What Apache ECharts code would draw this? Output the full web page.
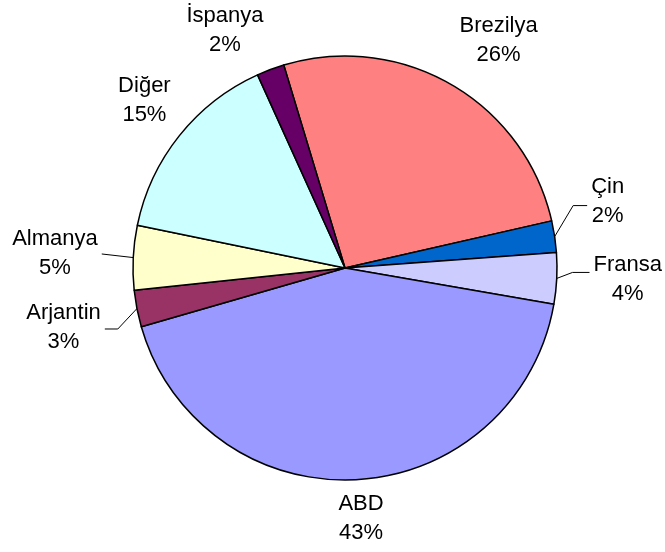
<!DOCTYPE html>
<html>
<head>
<meta charset="utf-8">
<script src="https://cdn.jsdelivr.net/npm/echarts@6/dist/echarts.min.js"></script>
<style>
html, body { margin: 0; padding: 0; background: #fff; }
#main { width: 665px; height: 552px; }
</style>
</head>
<body>
<div id="main"></div>
<script>
var countries = ['Brezilya', 'Çin', 'Fransa', 'ABD', 'Arjantin', 'Almanya', 'Diğer', 'İspanya'];
var shares = [26.1, 2.4, 3.9, 42.8, 2.8, 4.9, 15.0, 2.1];
var colors = ['#FF8080', '#0066CC', '#CCCCFF', '#9999FF', '#993366', '#FFFFCC', '#CCFFFF', '#660066'];

var startAngle = 106.8;
var cx = 345, cy = 268, r = 212;
// label centre, offset from the middle of the slice's outer edge
var labelShift = [[47, -44], [53, -35], [71, 1], [4.5, 39], [-73.4, 18.4], [-78.3, -4.6], [-35, -35.3], [-45.5, -39.5]];
// leader line: [y of line end relative to label centre, length of flat part]; null = no line
var leader = [null, [4, 14], [-7, 17], null, [2, 13], [1, 0], null, null];

var total = 0;
for (var k = 0; k < shares.length; k++) total += shares[k];

function edgePoint(i) {
  var before = 0;
  for (var k = 0; k < i; k++) before += shares[k];
  var a = (90 - startAngle + (before + shares[i] / 2) / total * 360) * Math.PI / 180;
  return [cx + r * Math.sin(a), cy - r * Math.cos(a)];
}

var pieData = [];
for (var i = 0; i < countries.length; i++) {
  pieData.push({
    name: countries[i],
    value: shares[i],
    itemStyle: { color: colors[i] },
    labelLine: { show: !!leader[i] }
  });
}

var myChart = echarts.init(document.getElementById('main'));
var option = {
  backgroundColor: '#fff',
  animation: false,
  series: [{
    type: 'pie',
    center: [cx, cy],
    radius: r,
    startAngle: startAngle,
    clockwise: true,
    avoidLabelOverlap: false,
    percentPrecision: 0,
    emphasis: { disabled: true },
    itemStyle: { borderColor: '#000', borderWidth: 1.5 },
    label: {
      show: true,
      position: 'outside',
      formatter: '{b}\n{d}%',
      color: '#000',
      fontFamily: 'Liberation Sans, Arial, sans-serif',
      fontSize: 22,
      lineHeight: 29
    },
    labelLine: {
      lineStyle: { color: '#000', width: 1 }
    },
    labelLayout: function (p) {
      var i = p.dataIndex;
      var e = edgePoint(i);
      var x = e[0] + labelShift[i][0];
      var y = e[1] + labelShift[i][1];
      var out = { x: x, y: y, align: 'center', verticalAlign: 'middle' };
      var L = leader[i];
      if (L) {
        var side = x < cx ? -1 : 1;
        var endX = x - side * (p.labelRect.width / 2 + 4);
        var ly = y + L[0];
        out.labelLinePoints = [e, [endX - side * L[1], ly], [endX, ly]];
      }
      return out;
    },
    data: pieData
  }]
};
myChart.setOption(option);
</script>
</body>
</html>
